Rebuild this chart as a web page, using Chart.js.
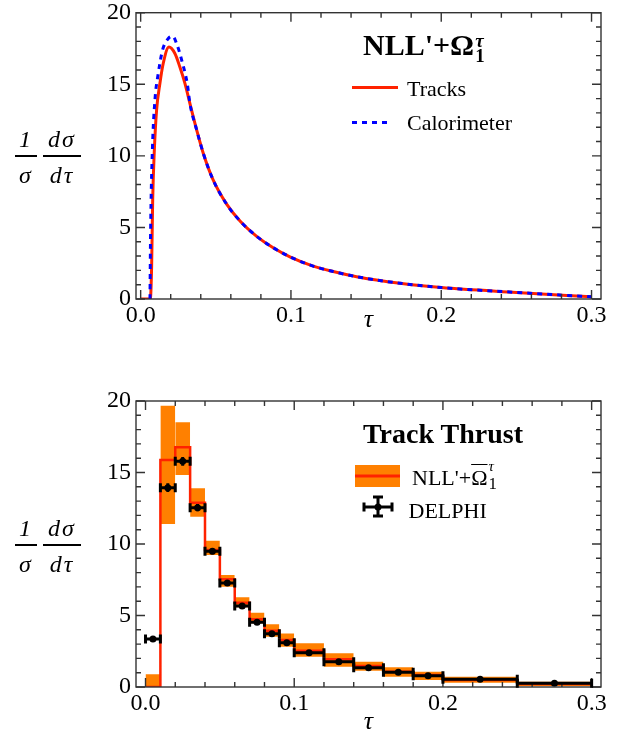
<!DOCTYPE html>
<html>
<head>
<meta charset="utf-8">
<script src="https://cdn.jsdelivr.net/npm/chart.js@4.4.0/dist/chart.umd.min.js"></script>
<style>
  body { margin: 0; background: #fff; }
  #wrap { position: relative; width: 624px; height: 735px; font-family: 'Liberation Serif', 'Times New Roman', serif; color: #000; }
  canvas { position: absolute; left: 0; }
  .t { position: absolute; white-space: nowrap; line-height: 1; }
  .ss { position: relative; display: inline-block; width: 12px; height: 0; }
  .ss span { position: absolute; left: 1px; line-height: 1; }
  .fr { position: absolute; width: 60px; text-align: center; font-style: italic; font-size: 24px; line-height: 1; letter-spacing: 2px; }
  .bar { position: absolute; height: 1.5px; background: #000; }
</style>
</head>
<body>
<div id="wrap">
  <canvas id="chartTop" width="624" height="350" style="top:0"></canvas>
  <canvas id="chartBot" width="624" height="350" style="top:385px"></canvas>

  <!-- top panel annotations -->
  <div class="t" style="left:363px;top:30px;font-size:30px;font-weight:bold">NLL'+Ω<span class="ss"><span style="bottom:5px;font-size:19px;font-style:italic">τ</span><span style="top:-8.6px;font-size:19px">1</span></span></div>
  <div class="t" style="left:407px;top:78.3px;font-size:22px">Tracks</div>
  <div class="t" style="left:407px;top:112.3px;font-size:22px">Calorimeter</div>

  <div class="fr" style="left:-4px;top:126.6px">1</div>
  <div class="bar" style="left:15px;top:155.3px;width:22px"></div>
  <div class="fr" style="left:-4px;top:162.9px">σ</div>
  <div class="fr" style="left:32px;top:126.6px">dσ</div>
  <div class="bar" style="left:43px;top:155.3px;width:38px"></div>
  <div class="fr" style="left:32px;top:162.9px">dτ</div>

  <!-- bottom panel annotations -->
  <div class="t" style="left:363px;top:420px;font-size:28px;font-weight:bold">Track Thrust</div>
  <div class="t" style="left:412px;top:466.6px;font-size:22px">NLL'+<span style="text-decoration:overline;text-decoration-thickness:1px">Ω</span><span class="ss"><span style="bottom:10.9px;font-size:15px;font-style:italic">τ</span><span style="top:-9.2px;font-size:17px">1</span></span></div>
  <div class="t" style="left:408.5px;top:499.9px;font-size:22px">DELPHI</div>

  <div class="fr" style="left:-4px;top:515.6px">1</div>
  <div class="bar" style="left:15px;top:544.3px;width:22px"></div>
  <div class="fr" style="left:-4px;top:551.9px">σ</div>
  <div class="fr" style="left:32px;top:515.6px">dσ</div>
  <div class="bar" style="left:43px;top:544.3px;width:38px"></div>
  <div class="fr" style="left:32px;top:551.9px">dτ</div>
</div>

<script>
const FONT = "'Liberation Serif', 'Times New Roman', serif";

// top panel: NLL'+Omega_1 distribution, tracks vs calorimeter
const tauTracks = [0, 0.0064, 0.0073, 0.008, 0.0091, 0.0106, 0.0128, 0.015, 0.0188, 0.0228, 0.0261, 0.0295, 0.0328, 0.0373, 0.0417, 0.0483, 0.0572, 0.0661, 0.0772, 0.0882, 0.0993, 0.1148, 0.1281, 0.1437, 0.1725, 0.2, 0.25, 0.3];
const valTracks = [0, 0, 2.25, 6.9, 10.4, 13.2, 15.05, 16.45, 17.6, 17.15, 16.2, 15.05, 13.65, 11.8, 10.17, 8.3, 6.63, 5.45, 4.38, 3.58, 2.95, 2.3, 1.92, 1.56, 1.1, 0.8, 0.46, 0.15];
const tauCalo = [0.0062, 0.0066, 0.0078, 0.0095, 0.0117, 0.0146, 0.0184, 0.0213, 0.0244, 0.0279, 0.031, 0.0328, 0.0373, 0.0417, 0.0483, 0.0572, 0.0661, 0.0772, 0.0882, 0.0993, 0.1148, 0.1281, 0.1437, 0.1725, 0.2, 0.25, 0.3];
const valCalo = [0, 4.6, 10.4, 13.9, 15.75, 17.4, 18.2, 18.35, 17.7, 16.45, 15.05, 13.65, 11.8, 10.17, 8.3, 6.63, 5.45, 4.38, 3.58, 2.95, 2.3, 1.92, 1.56, 1.1, 0.8, 0.46, 0.15];

// bottom panel: track thrust bins
const binLo = [0, 0.01, 0.02, 0.03, 0.04, 0.05, 0.06, 0.07, 0.08, 0.09, 0.10, 0.12, 0.14, 0.16, 0.18, 0.20, 0.25];
const binHi = [0.01, 0.02, 0.03, 0.04, 0.05, 0.06, 0.07, 0.08, 0.09, 0.10, 0.12, 0.14, 0.16, 0.18, 0.20, 0.25, 0.30];
const delphi = [3.36, 13.94, 15.78, 12.54, 9.49, 7.27, 5.66, 4.52, 3.73, 3.10, 2.40, 1.77, 1.35, 1.03, 0.79, 0.54, 0.26];
const delphiErr = [0.15, 0.3, 0.3, 0.25, 0.2, 0.15, 0.12, 0.1, 0.09, 0.08, 0.06, 0.05, 0.04, 0.04, 0.03, 0.03, 0.02];
const theory = [0, 15.87, 16.76, 12.89, 9.58, 7.53, 5.9, 4.73, 3.94, 3.29, 2.54, 1.94, 1.47, 1.07, 0.84, 0.49, 0.21];
const bandLo = [0, 11.4, 14.83, 11.9, 9.23, 7.01, 5.57, 4.45, 3.52, 2.82, 2.12, 1.42, 1.14, 0.72, 0.49, 0.3, 0.07];
const bandHi = [0.9, 19.67, 18.51, 13.9, 10.23, 7.83, 6.27, 5.2, 4.38, 3.75, 3.06, 2.36, 1.77, 1.38, 1.07, 0.72, 0.37];

const xMajor = [0, 0.1, 0.2, 0.3];
const yMajor = [0, 5, 10, 15, 20];

const colors = {
  red: '#ff2200',
  blue: '#0000ff',
  orange: '#ff8000',
  frame: '#333333',
};

// inward ticks on all four sides plus the frame
const frame = {
  id: 'frame',
  afterDatasetsDraw(chart) {
    const { ctx, chartArea: a, scales: { x, y } } = chart;
    ctx.save();
    ctx.strokeStyle = colors.frame;
    ctx.lineWidth = 1.4;
    ctx.beginPath();
    for (let i = 0; i <= 15; i++) {
      const px = x.getPixelForValue(i * 0.02);
      const len = i % 5 === 0 ? 9 : 5;
      ctx.moveTo(px, a.bottom); ctx.lineTo(px, a.bottom - len);
      ctx.moveTo(px, a.top); ctx.lineTo(px, a.top + len);
    }
    for (let v = 0; v <= 20; v++) {
      const py = y.getPixelForValue(v);
      const len = v % 5 === 0 ? 9 : 5;
      ctx.moveTo(a.left, py); ctx.lineTo(a.left + len, py);
      ctx.moveTo(a.right, py); ctx.lineTo(a.right - len, py);
    }
    ctx.stroke();
    ctx.strokeRect(a.left, a.top, a.right - a.left, a.bottom - a.top);
    ctx.restore();
  },
};

const topLegend = {
  id: 'topLegend',
  afterDraw(chart) {
    const ctx = chart.ctx;
    ctx.save();
    ctx.lineWidth = 3;
    ctx.strokeStyle = colors.red;
    ctx.beginPath(); ctx.moveTo(352, 87.5); ctx.lineTo(398, 87.5); ctx.stroke();
    ctx.strokeStyle = colors.blue;
    ctx.setLineDash([5, 5]);
    ctx.beginPath(); ctx.moveTo(352, 122.5); ctx.lineTo(392, 122.5); ctx.stroke();
    ctx.restore();
  },
};

const errorBars = {
  id: 'errorBars',
  afterDatasetsDraw(chart) {
    const { ctx, scales: { x, y } } = chart;
    ctx.save();
    ctx.strokeStyle = '#000';
    ctx.lineWidth = 3;
    binLo.forEach((lo, i) => {
      const x0 = x.getPixelForValue(lo);
      const x1 = x.getPixelForValue(binHi[i]);
      const xm = x.getPixelForValue((lo + binHi[i]) / 2);
      const yc = y.getPixelForValue(delphi[i]);
      const yt = y.getPixelForValue(delphi[i] + delphiErr[i]);
      const yb = y.getPixelForValue(delphi[i] - delphiErr[i]);
      ctx.beginPath();
      ctx.moveTo(x0, yc); ctx.lineTo(x1, yc);
      ctx.moveTo(x0, yc - 4.5); ctx.lineTo(x0, yc + 4.5);
      ctx.moveTo(x1, yc - 4.5); ctx.lineTo(x1, yc + 4.5);
      ctx.moveTo(xm, yt); ctx.lineTo(xm, yb);
      ctx.stroke();
    });
    ctx.restore();
  },
};

const botLegend = {
  id: 'botLegend',
  afterDraw(chart) {
    const ctx = chart.ctx;
    ctx.save();
    ctx.fillStyle = colors.orange;
    ctx.fillRect(355, 80, 45, 22);
    ctx.strokeStyle = colors.red;
    ctx.lineWidth = 3;
    ctx.beginPath(); ctx.moveTo(355, 91); ctx.lineTo(400, 91); ctx.stroke();
    ctx.strokeStyle = '#000';
    ctx.beginPath();
    ctx.moveTo(364, 122); ctx.lineTo(392, 122);
    ctx.moveTo(364, 117.5); ctx.lineTo(364, 126.5);
    ctx.moveTo(392, 117.5); ctx.lineTo(392, 126.5);
    ctx.moveTo(378, 112); ctx.lineTo(378, 131);
    ctx.moveTo(373, 112); ctx.lineTo(383, 112);
    ctx.moveTo(373, 131); ctx.lineTo(383, 131);
    ctx.stroke();
    ctx.beginPath(); ctx.arc(378, 122, 3.5, 0, Math.PI * 2); ctx.fillStyle = '#000'; ctx.fill();
    ctx.restore();
  },
};

function scales(xMin, axisHeight, titlePad) {
  return {
    x: {
      type: 'linear',
      min: xMin,
      max: 0.3063,
      afterBuildTicks: (s) => { s.ticks = xMajor.map((v) => ({ value: v })); },
      afterFit: (s) => { s.height = axisHeight; s.paddingLeft = 0; s.paddingRight = 0; },
      grid: { display: false, drawTicks: false },
      border: { display: false },
      ticks: {
        color: '#000',
        font: { family: FONT, size: 24 },
        padding: 2,
        maxRotation: 0,
        autoSkip: false,
        callback: (v) => Number(v).toFixed(1),
      },
      title: {
        display: true,
        text: 'τ',
        color: '#000',
        font: { family: FONT, size: 26, style: 'italic', lineHeight: 1 },
        padding: { top: 0, bottom: titlePad },
      },
    },
    y: {
      min: 0,
      max: 20,
      afterBuildTicks: (s) => { s.ticks = yMajor.map((v) => ({ value: v })); },
      afterFit: (s) => { s.width = 136; s.paddingTop = 0; s.paddingBottom = 0; },
      grid: { display: false, drawTicks: false },
      border: { display: false },
      ticks: { color: '#000', font: { family: FONT, size: 24 }, padding: 5 },
    },
  };
}

const common = {
  responsive: false,
  animation: false,
  events: [],
  plugins: { legend: { display: false }, tooltip: { enabled: false } },
};

new Chart(document.getElementById('chartTop'), {
  type: 'line',
  data: {
    datasets: [
      {
        label: 'Calorimeter',
        data: tauCalo.map((t, i) => ({ x: t, y: valCalo[i] })),
        borderColor: colors.blue,
        borderWidth: 3,
        borderDash: [5, 5],
        pointRadius: 0,
        cubicInterpolationMode: 'monotone',
        order: 0,
      },
      {
        label: 'Tracks',
        data: tauTracks.map((t, i) => ({ x: t, y: valTracks[i] })),
        borderColor: colors.red,
        borderWidth: 3,
        pointRadius: 0,
        cubicInterpolationMode: 'monotone',
        order: 1,
      },
    ],
  },
  options: {
    ...common,
    layout: { padding: { left: 0, right: 23, top: 12.7, bottom: 0 } },
    scales: scales(-0.0031, 51, 17),
  },
  plugins: [frame, topLegend],
});

// one filled band per bin, then the theory step line and the data
const bandSets = binLo.map((lo, i) => ({
  data: [{ x: lo, y: bandHi[i] }, { x: binHi[i], y: bandHi[i] }],
  borderWidth: 0,
  pointRadius: 0,
  backgroundColor: colors.orange,
  fill: { value: bandLo[i] },
  order: 3,
}));

const stepPoints = binLo.map((lo, i) => ({ x: lo, y: theory[i] }));
stepPoints.push({ x: binHi[binHi.length - 1], y: theory[theory.length - 1] });

new Chart(document.getElementById('chartBot'), {
  type: 'line',
  data: {
    datasets: [
      {
        label: 'DELPHI',
        type: 'scatter',
        data: binLo.map((lo, i) => ({ x: (lo + binHi[i]) / 2, y: delphi[i] })),
        pointRadius: 3.5,
        pointBackgroundColor: '#000',
        pointBorderWidth: 0,
        order: 0,
      },
      {
        label: 'NLL',
        data: stepPoints,
        stepped: 'before',
        borderColor: colors.red,
        borderWidth: 2.5,
        pointRadius: 0,
        order: 1,
      },
      ...bandSets,
    ],
  },
  options: {
    ...common,
    layout: { padding: { left: 0, right: 23, top: 16, bottom: 0 } },
    scales: scales(-0.0064, 48, 0),
  },
  plugins: [frame, errorBars, botLegend],
});
</script>
</body>
</html>
